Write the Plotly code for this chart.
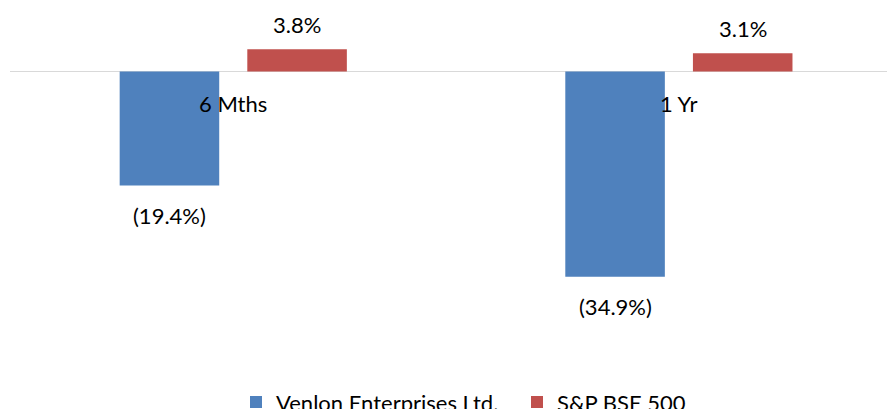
import plotly.graph_objects as go

categories = ["6 Mths", "1 Yr"]
series_names = ["Venlon Enterprises Ltd.", "S&P BSE 500"]
venlon = [-19.4, -34.9]
bse500 = [3.8, 3.1]
colors = ["#4F81BD", "#C0504D"]

FONT = "Lato"
W, H = 887, 409

def fmt(v):
    return f"({abs(v):.1f}%)" if v < 0 else f"{v:.1f}%"

fig = go.Figure()
for name, vals, col in zip(series_names, [venlon, bse500], colors):
    fig.add_trace(go.Bar(x=categories, y=vals, name=name, marker_color=col,
                         marker_line_width=0, hoverinfo="skip"))

bargap = 0.4272
bargroupgap = 0.22
slot = (1 - bargap) / 2
annotations = []
for i, cat in enumerate(categories):
    for j, vals in enumerate([venlon, bse500]):
        v = vals[i]
        xoff = (j - 0.5) * slot
        annotations.append(dict(x=i + xoff, y=v, xref="x", yref="y", text=fmt(v),
                                showarrow=False, yshift=(-30 if v < 0 else 25),
                                font=dict(family=FONT, size=22, color="#000000")))
    annotations.append(dict(x=i, y=0, xref="x", yref="y", text=cat, showarrow=False,
                            yshift=-32, font=dict(family=FONT, size=22, color="#000000")))

fig.update_layout(
    width=W, height=H,
    margin=dict(l=10, r=0, t=0, b=59, autoexpand=False),
    paper_bgcolor="white", plot_bgcolor="white",
    barmode="group", bargap=bargap, bargroupgap=bargroupgap,
    xaxis=dict(type="category", range=[-0.501, 1.467], showticklabels=False,
               showgrid=False, zeroline=False, showline=False, ticks=""),
    yaxis=dict(range=[-47.36, 12.16], showticklabels=False, showgrid=False,
               zeroline=True, zerolinecolor="#D9D9D9", zerolinewidth=1,
               showline=False, ticks=""),
    showlegend=True,
    legend=dict(orientation="h", x=0.2577, xanchor="left", y=-0.149, yanchor="middle",
                font=dict(family=FONT, size=22, color="#000000"),
                entrywidth=236, itemclick=False, itemdoubleclick=False,
                traceorder="normal"),
    annotations=annotations,
)

fig.write_html("out.html")
